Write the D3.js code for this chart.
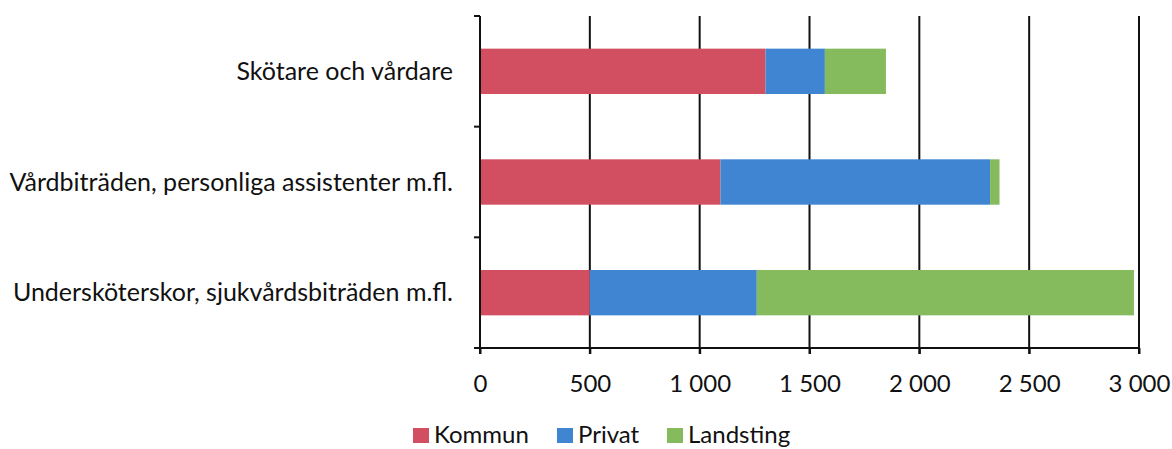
<!DOCTYPE html>
<html><head><meta charset="utf-8">
<script src="https://cdn.jsdelivr.net/npm/d3@7"></script>
<style>body{margin:0;background:#fff}svg{display:block}text{font-family:Lato,sans-serif;fill:#111}</style>
</head><body><svg id="c" width="1172" height="449"></svg>
<script>
const categories = ["Skötare och vårdare","Vårdbiträden, personliga assistenter m.fl.","Undersköterskor, sjukvårdsbiträden m.fl."];
const seriesNames = ["Kommun","Privat","Landsting"];
const kommun = [1300, 1095, 500];
const privat = [270, 1227, 760];
const landsting = [278, 43, 1717];
const xTicks = [0,500,1000,1500,2000,2500,3000];
const colors = ["#d24f62","#3f85d2","#86bb5d"];

const svg = d3.select("#c");
const x = d3.scaleLinear().domain([0,3000]).range([480,1139]);
const y = d3.scaleBand().domain(categories).range([16,348]).paddingInner(0.59).paddingOuter(0.295);
const fmt = d => d3.format(",")(d).replace(/,/g,"\u00a0");

svg.append("g").selectAll("line").data(xTicks.slice(1)).join("line")
  .attr("x1",d=>x(d)).attr("x2",d=>x(d)).attr("y1",16).attr("y2",354)
  .attr("stroke","#111").attr("stroke-width",2);

const rows = categories.map((c,i)=>({cat:c, vals:[kommun[i],privat[i],landsting[i]]}));
const stack = d3.stack().keys([0,1,2]).value((d,k)=>d.vals[k])(rows);
svg.append("g").selectAll("g").data(stack).join("g").attr("fill",(d,i)=>colors[i])
  .selectAll("rect").data(d=>d).join("rect")
  .attr("x",d=>x(d[0])).attr("width",d=>x(d[1])-x(d[0]))
  .attr("y",d=>y(d.data.cat)).attr("height",y.bandwidth());

const xa = svg.append("g").attr("transform","translate(0,348)")
  .call(d3.axisBottom(x).tickValues(xTicks).tickFormat(fmt).tickSize(6).tickPadding(21).tickSizeOuter(0));
xa.select(".domain").attr("stroke","#111").attr("stroke-width",2).attr("d","M474,0H1139");
xa.selectAll(".tick line").attr("stroke","#111").attr("stroke-width",2);
xa.selectAll(".tick text").attr("font-size",24).attr("font-family","Lato").attr("fill","#111");

const ya = svg.append("g").attr("transform","translate(480,0)");
ya.append("line").attr("x1",0).attr("x2",0).attr("y1",16).attr("y2",354).attr("stroke","#111").attr("stroke-width",2);
const bounds = [16, ...categories.slice(1).map(c=>y(c)-y.step()*y.paddingInner()/2), 348];
ya.selectAll(".yt").data(bounds).join("line").attr("class","yt")
  .attr("x1",-6).attr("x2",0).attr("y1",d=>d).attr("y2",d=>d).attr("stroke","#111").attr("stroke-width",2);
ya.selectAll(".yl").data(categories).join("text").attr("class","yl")
  .attr("x",-27).attr("y",d=>y(d)+y.bandwidth()/2).attr("dy","0.35em")
  .attr("text-anchor","end").attr("font-size",25).text(d=>d);

const leg = svg.append("g");
const lx = [413, 557, 667];
seriesNames.forEach((n,i)=>{
  leg.append("rect").attr("x",lx[i]).attr("y",428).attr("width",16).attr("height",15).attr("fill",colors[i]);
  leg.append("text").attr("x",lx[i]+21).attr("y",435).attr("dy","0.35em").attr("font-size",24).text(n);
});
</script></body></html>
